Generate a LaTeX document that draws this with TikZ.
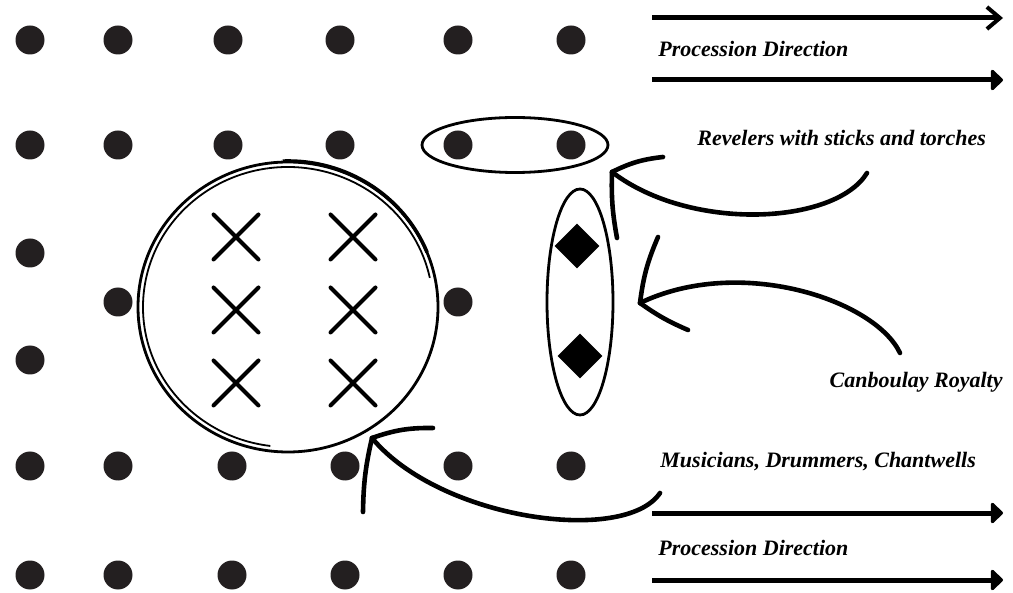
\documentclass[tikz,border=0pt]{standalone}
\usepackage{fontspec}
\setmainfont{Liberation Serif}
\usetikzlibrary{arrows.meta,shapes.geometric,shapes.misc}
\definecolor{dotgray}{HTML}{231F20}
\tikzset{
  dot/.style={circle,fill=dotgray,inner sep=0pt,minimum size=14.5pt},
  xmark/.style={cross out,draw,line width=2pt,line cap=round,inner sep=0pt,minimum size=20.5pt},
  gem/.style={diamond,fill=black,inner sep=0pt,minimum size=22.5pt},
  group/.style={ellipse,draw,line width=1.4pt,inner sep=0pt},
  lbl/.style={font=\bfseries\itshape\fontsize{11}{13}\selectfont,inner sep=0pt},
  swoop/.style={line width=2.3pt,line cap=round},
}
\begin{document}
\begin{tikzpicture}[x=0.5pt,y=-0.5pt]
    \useasboundingbox (0,0) rectangle (1013,593);

    % dancers / crowd
    \foreach \c/\x in {1/30,2/118,3/228,4/340,5/458,6/571}
    {
        \node[dot] (ra\c) at (\x,40) {};
        \node[dot] (rb\c) at (\x,145) {};
    }
    \foreach \c/\x in {1/30,2/118,3/232,4/345,5/458,6/571}
    {
        \node[dot] (rf\c) at (\x,466) {};
        \node[dot] (rg\c) at (\x,575) {};
    }
    \node[dot] (rc1) at (30,253) {};
    \node[dot] (rd1) at (118,302) {};
    \node[dot] (rd2) at (458,302) {};
    \node[dot] (re1) at (30,360) {};

    % musicians
    \foreach \r/\y in {1/237,2/310,3/383}
    {
        \node[xmark] (xl\r) at (236,\y) {};
        \node[xmark] (xr\r) at (353,\y) {};
    }
    \draw[line width=1.4pt] (288,307) ellipse (75pt and 72.5pt);
    \draw[line width=0.9pt] (288,307) ++(97:145 and 140) arc[start angle=97,end angle=348,x radius=145,y radius=140];
    \draw[line width=1.8pt] (288,307) ++(268:150 and 146) arc[start angle=268,end angle=338,x radius=150,y radius=146];

    % royalty and revelers
    \node[gem] (k1) at (577,246) {};
    \node[gem] (k2) at (580,356) {};
    \node[group,minimum width=93pt,minimum height=27.5pt] (revgrp) at (515,145) {};
    \node[group,minimum width=33pt,minimum height=113pt] (roygrp) at (580,302) {};

    % procession arrows
    \coordinate (pa1) at (652,18);  \coordinate (pb1) at (1003,18);
    \coordinate (pa2) at (652,80);  \coordinate (pb2) at (1003,80);
    \coordinate (pa3) at (652,513); \coordinate (pb3) at (1003,513);
    \coordinate (pa4) at (652,580); \coordinate (pb4) at (1003,580);
    \draw[line width=2.5pt,-{Straight Barb[length=6.5pt,width=11pt,line width=2pt]}] (pa1) -- (pb1);
    \foreach \i in {2,3,4}
        \draw[line width=2.5pt,-{Triangle[length=6.5pt,width=12pt,round]}] (pa\i) -- (pb\i);

    % labels
    \node[lbl,anchor=west] (proc1) at (658,49) {Procession Direction};
    \node[lbl,anchor=west] (revlbl) at (697,138) {Revelers with sticks and torches};
    \node[lbl,anchor=east] (roylbl) at (1003,382) {Canboulay Royalty};
    \node[lbl,anchor=west] (muslbl) at (660,462) {Musicians, Drummers, Chantwells};
    \node[lbl,anchor=west] (proc2) at (658,548) {Procession Direction};

    % pointers
    \coordinate (revs) at (867,173); \coordinate (revtip) at (612,172);
    \coordinate (roys) at (900,353); \coordinate (roytip) at (640,303);
    \coordinate (muss) at (660,493); \coordinate (mustip) at (372,438);
    \draw[swoop] (revs) .. controls (835,225) and (690,232) .. (revtip);
    \draw[swoop] (revtip) to[bend left=10] (663,157);
    \draw[swoop] (revtip) to[bend right=6] (617,238);
    \draw[swoop] (roys) .. controls (875,300) and (740,255) .. (roytip);
    \draw[swoop] (roytip) to[bend left=8] (658,237);
    \draw[swoop] (roytip) to[bend right=6] (688,330);
    \draw[swoop] (muss) .. controls (625,545) and (440,520) .. (mustip);
    \draw[swoop] (mustip) to[bend left=10] (433,428);
    \draw[swoop] (mustip) to[bend right=6] (363,512);
\end{tikzpicture}
\end{document}
